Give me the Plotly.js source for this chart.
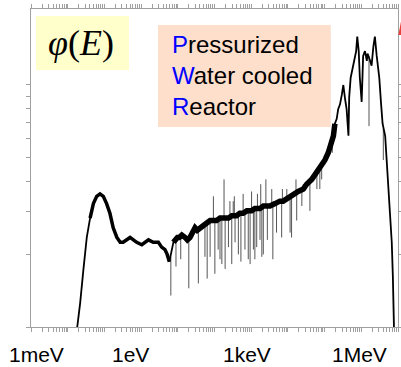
<!DOCTYPE html>
<html>
<head>
<meta charset="utf-8">
<script src="https://cdn.plot.ly/plotly-3.0.1.min.js"></script>
<style>html,body{margin:0;padding:0;background:#fff;}#chart{width:401px;height:367px;}</style>
</head>
<body>
<div id="chart"></div>
<script>
// Main flux curve: log10(E / eV) and log10(phi) (arbitrary units)
const logE = [-1.74,-1.66,-1.57,-1.48,-1.39,-1.30,-1.21,-1.12,-1.03,-0.94,-0.85,-0.76,-0.66,-0.57,-0.49,-0.39,-0.30,-0.21,-0.12,0.02,0.11,0.20,0.33,0.47,0.56,0.65,0.71,0.77,0.88,0.92,0.99,1.04,1.11,1.20,1.26,1.33,1.41,1.47,1.53,1.60,1.69,1.79,1.88,2.06,2.15,2.38,2.47,2.60,2.69,2.78,2.88,3.01,3.10,3.24,3.33,3.51,3.65,3.78,3.87,3.97,4.06,4.15,4.28,4.42,4.51,4.65,4.74,4.83,4.92,5.01,5.10,5.19,5.24,5.28,5.33,5.37,5.42,5.47,5.51,5.56,5.60,5.65,5.67,5.71,5.78,5.86,5.89,5.93,5.96,6.01,6.05,6.10,6.15,6.17,6.24,6.28,6.33,6.37,6.42,6.49,6.54,6.58,6.65,6.69,6.74,6.78,6.83,6.86,6.89];
const logPhi = [0.00,0.10,0.24,0.37,0.45,0.51,0.54,0.55,0.54,0.51,0.47,0.41,0.37,0.35,0.35,0.36,0.37,0.36,0.35,0.34,0.35,0.36,0.35,0.35,0.33,0.32,0.30,0.27,0.35,0.36,0.37,0.37,0.38,0.37,0.36,0.37,0.40,0.41,0.40,0.41,0.42,0.43,0.44,0.44,0.45,0.45,0.46,0.46,0.47,0.47,0.48,0.48,0.49,0.49,0.50,0.50,0.51,0.52,0.52,0.53,0.54,0.55,0.56,0.57,0.59,0.61,0.63,0.65,0.66,0.69,0.72,0.76,0.79,0.84,0.86,0.90,0.92,0.96,1.00,0.94,0.90,0.79,0.95,1.03,1.08,1.14,1.20,1.14,1.03,0.93,1.12,1.14,1.10,1.13,1.10,1.08,1.16,1.20,1.12,1.03,0.92,0.84,0.79,0.70,0.59,0.48,0.35,0.21,0.00];

// Resonance spikes: position, base and tip (log10 units)
const spikeLogE = [0.81,0.95,1.08,1.30,1.56,1.74,1.80,1.88,1.97,2.01,2.10,2.15,2.20,2.26,2.29,2.38,2.42,2.47,2.51,2.54,2.56,2.65,2.72,2.78,2.83,2.92,2.97,3.01,3.06,3.10,3.15,3.17,3.24,3.26,3.29,3.33,3.40,3.44,3.56,3.59,3.69,3.83,3.85,3.97,4.06,4.10,4.22,4.24,4.38,4.42,4.60,4.79,4.87,4.92,5.21,6.21,6.60];
const spikeBase = [0.29,0.36,0.37,0.36,0.40,0.43,0.43,0.44,0.44,0.44,0.45,0.45,0.45,0.45,0.45,0.45,0.46,0.46,0.46,0.46,0.46,0.46,0.47,0.47,0.48,0.48,0.48,0.48,0.49,0.49,0.49,0.49,0.49,0.49,0.50,0.50,0.50,0.50,0.51,0.51,0.51,0.52,0.52,0.53,0.54,0.54,0.55,0.55,0.57,0.57,0.60,0.64,0.65,0.66,0.77,1.12,0.82];
const spikeTip = [0.13,0.25,0.28,0.16,0.18,0.29,0.20,0.29,0.54,0.22,0.32,0.28,0.26,0.61,0.24,0.33,0.52,0.26,0.52,0.54,0.35,0.30,0.27,0.55,0.32,0.28,0.26,0.56,0.32,0.28,0.33,0.55,0.36,0.59,0.29,0.30,0.61,0.36,0.57,0.28,0.39,0.37,0.57,0.57,0.39,0.37,0.61,0.44,0.50,0.59,0.48,0.57,0.57,0.61,0.72,0.83,0.69];

// Tick labels
const tickLabels = ['1meV','1eV','1keV','1MeV'];

const p10 = v => Math.pow(10, v);
const mainX = logE.map(p10);
const mainY = logPhi.map(p10);
function slice(lo, hi) {
  const x = [], y = [];
  logE.forEach((v, i) => { if (v >= lo && v <= hi) { x.push(p10(v)); y.push(p10(logPhi[i])); } });
  return {x, y};
}
const thermalBand = slice(-1.39, 0.77);
const epiBand = slice(0.88, 5.28);

const sx = [], sy = [];
spikeLogE.forEach((v, i) => {
  sx.push(p10(v), p10(v), null);
  sy.push(p10(spikeBase[i]), p10(spikeTip[i]), null);
});

const xTicks = [];
for (let n = -3; n <= 6; n++) for (let k = 1; k <= 9; k++) xTicks.push(k * Math.pow(10, n));
xTicks.push(1e7);
const yTicks = [1,2,3,4,5,6,7,8,9,10];

const traces = [
  {x: sx, y: sy, mode: 'lines', line: {color: '#555', width: 1}, hoverinfo: 'skip', connectgaps: false},
  {x: epiBand.x, y: epiBand.y, mode: 'lines', line: {color: '#000', width: 5.5}, hoverinfo: 'skip'},
  {x: thermalBand.x, y: thermalBand.y, mode: 'lines', line: {color: '#000', width: 3.5}, hoverinfo: 'skip'},
  {x: mainX, y: mainY, mode: 'lines', line: {color: '#000', width: 1.8}, hoverinfo: 'skip'}
];

const axisCommon = {showgrid: false, zeroline: false, showline: true, linecolor: '#a0a0a0', linewidth: 1,
  mirror: 'allticks', ticks: 'outside', ticklen: 4, tickcolor: '#a0a0a0', tickwidth: 1, showticklabels: false};

const labelX = [0.016, 0.271, 0.588, 0.896];
const annotations = tickLabels.map((t, i) => ({
  text: t, xref: 'paper', yref: 'paper', x: labelX[i], y: -0.088, xanchor: 'center', yanchor: 'middle',
  showarrow: false, font: {family: 'Liberation Sans, Arial', size: 21, color: '#000'}
}));
annotations.push({
  text: '<i>φ</i>(<i>E</i>)', xref: 'paper', yref: 'paper', x: 0.1376, y: 0.893, xanchor: 'center', yanchor: 'middle',
  showarrow: false, font: {family: 'Liberation Serif, Times New Roman', size: 36, color: '#000'}
});
const pwr = ['<span style="color:#0000ff">P</span>ressurized', '<span style="color:#0000ff">W</span>ater cooled', '<span style="color:#0000ff">R</span>eactor'];
const pwrY = [0.889, 0.791, 0.694];
pwr.forEach((t, i) => annotations.push({
  text: t, xref: 'paper', yref: 'paper', x: 0.379, y: pwrY[i], xanchor: 'left', yanchor: 'middle',
  showarrow: false, font: {family: 'Liberation Sans, Arial', size: 24, color: '#000'}
}));

const layout = {
  width: 401, height: 367,
  margin: {l: 31, r: 3, t: 9, b: 40},
  paper_bgcolor: '#fff', plot_bgcolor: 'rgba(0,0,0,0)',
  showlegend: false,
  xaxis: Object.assign({type: 'log', range: [-3, 7], tickvals: xTicks}, axisCommon),
  yaxis: Object.assign({type: 'log', range: [0, 1.314], tickvals: yTicks}, axisCommon),
  shapes: [
    {type: 'rect', xref: 'paper', yref: 'paper', x0: 0.0136, x1: 0.267, y0: 0.808, y1: 0.978, fillcolor: '#ffffcc', line: {width: 0}, layer: 'below'},
    {type: 'rect', xref: 'paper', yref: 'paper', x0: 0.346, x1: 0.817, y0: 0.629, y1: 0.950, fillcolor: '#fddfcc', line: {width: 0}, layer: 'below'},
    {type: 'path', xref: 'paper', yref: 'paper', path: 'M 1.009,0.966 L 1.001,0.918 L 1.009,0.918 Z', fillcolor: '#e8413c', line: {width: 0}}
  ],
  annotations: annotations
};

Plotly.newPlot('chart', traces, layout, {staticPlot: true, displayModeBar: false});
</script>
</body>
</html>
